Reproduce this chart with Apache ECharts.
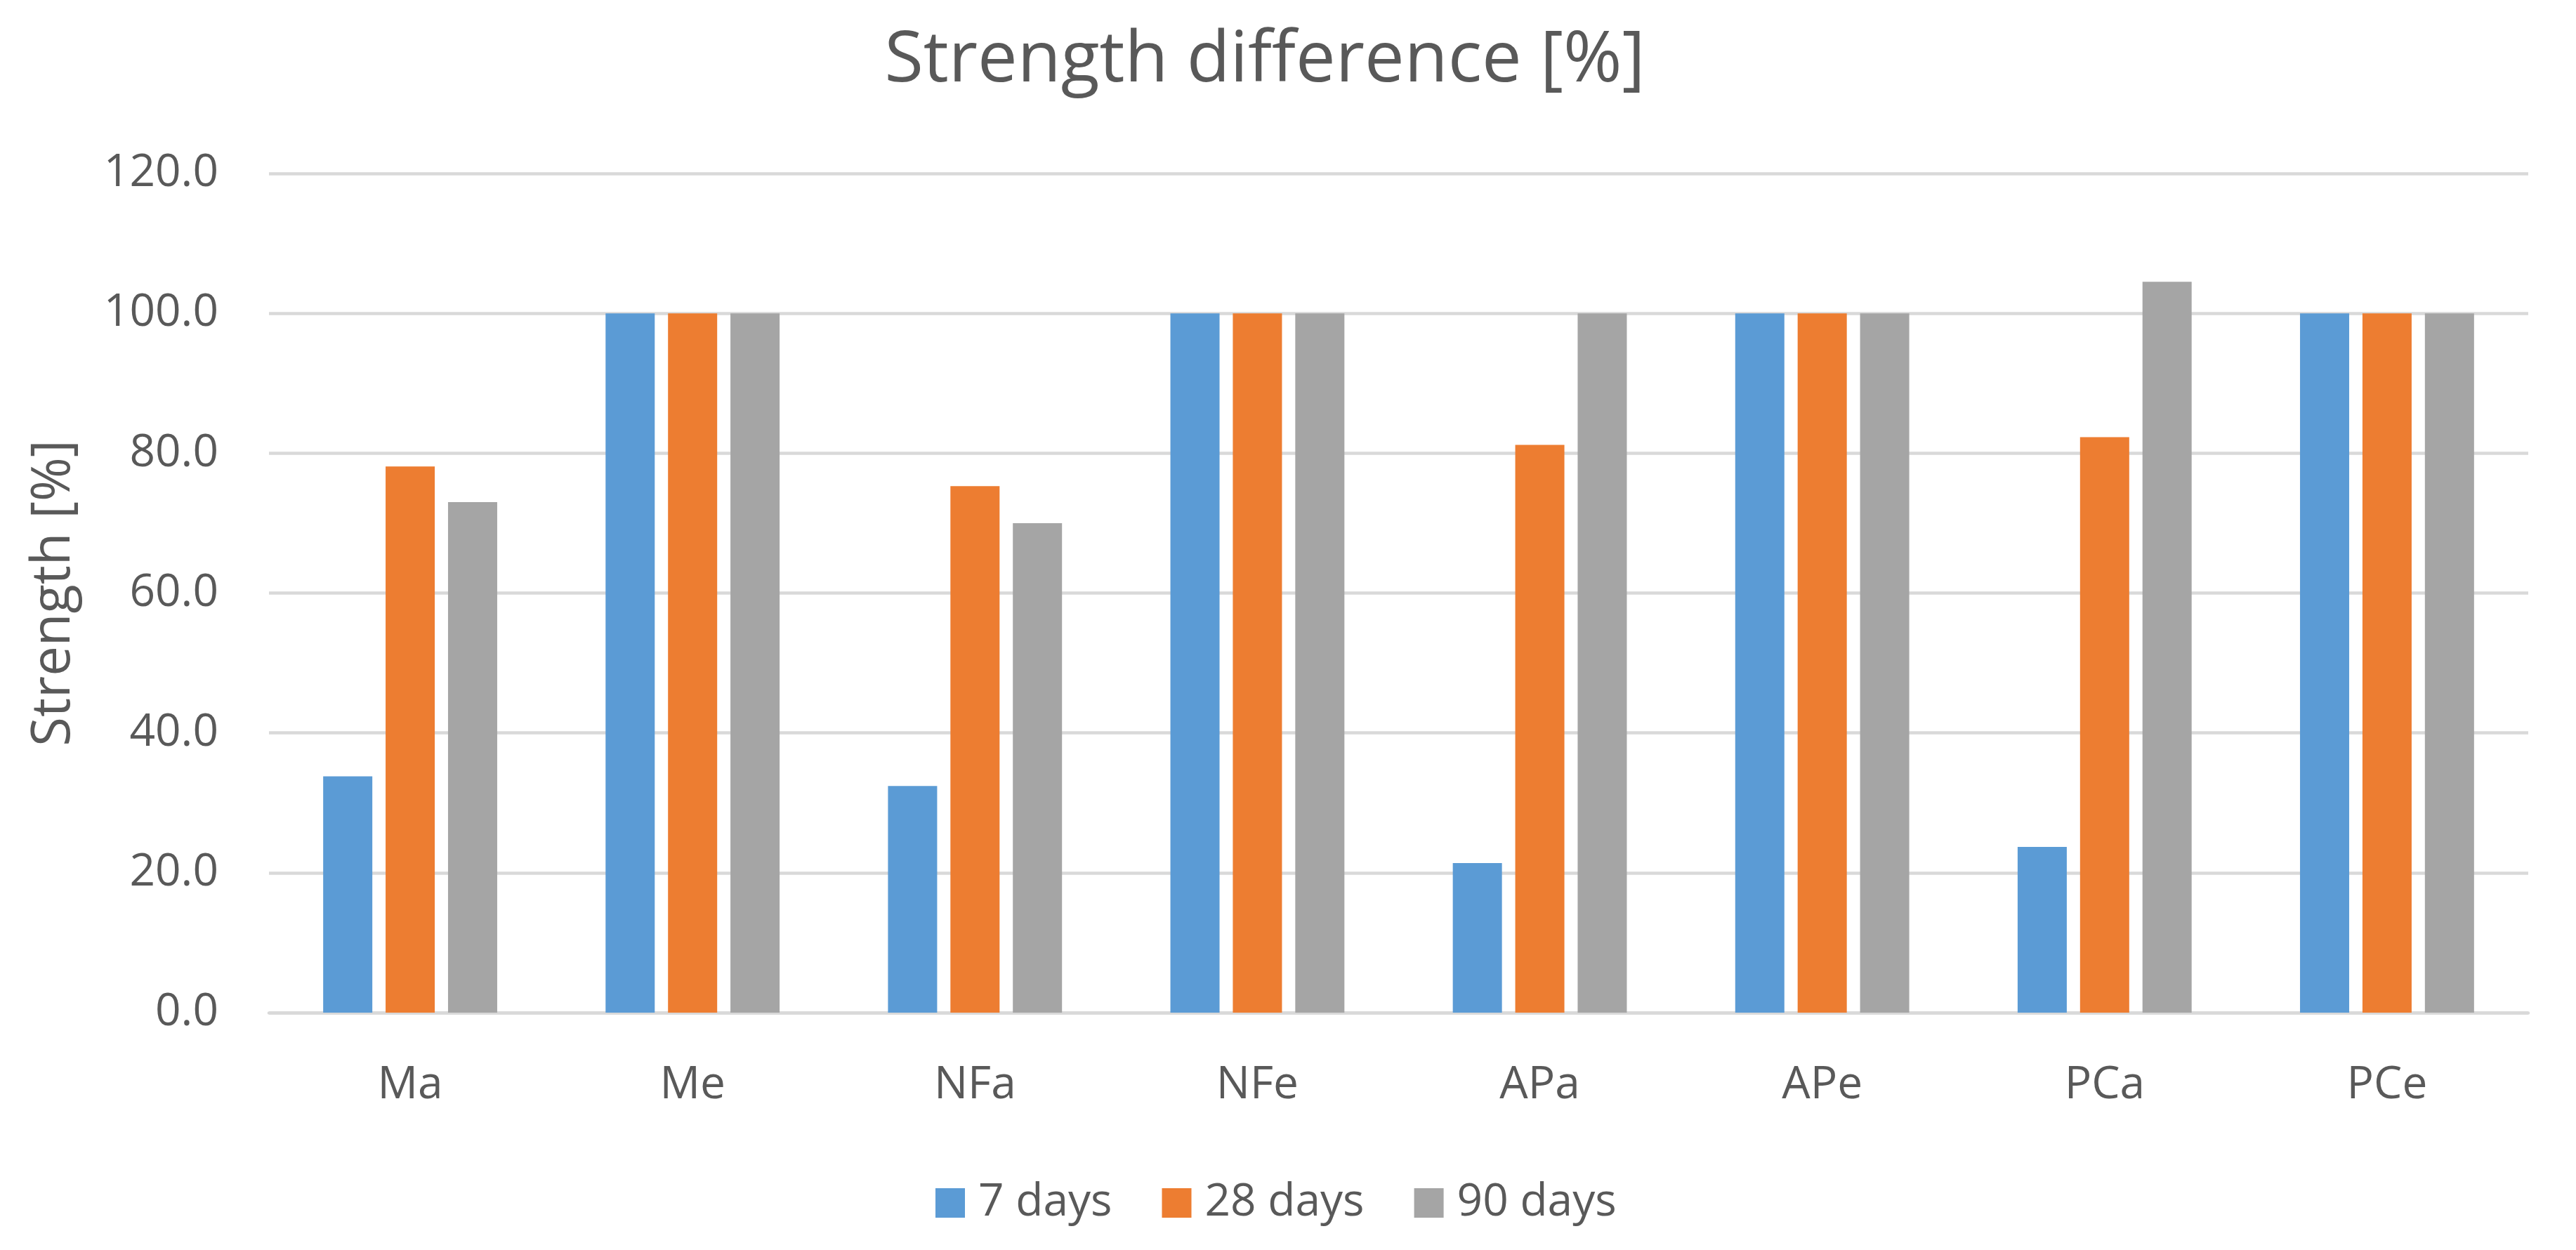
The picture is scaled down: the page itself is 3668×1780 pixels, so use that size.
<!DOCTYPE html>
<html>
<head>
<meta charset="utf-8">
<script src="https://cdn.jsdelivr.net/npm/echarts@6/dist/echarts.min.js"></script>
<style>html,body{margin:0;padding:0;background:#fff}#c{width:3668px;height:1780px}</style>
</head>
<body>
<div id="c"></div>
<script>
const categories = ['Ma', 'Me', 'NFa', 'NFe', 'APa', 'APe', 'PCa', 'PCe'];
const days7 = [33.8, 100, 32.4, 100, 21.4, 100, 23.7, 100];
const days28 = [78.1, 100, 75.3, 100, 81.2, 100, 82.3, 100];
const days90 = [73.0, 100, 70.0, 100, 100, 100, 104.5, 100];
const seriesNames = ['7 days', '28 days', '90 days'];
const yTicks = [0, 20, 40, 60, 80, 100, 120];

const FONT = 'Open Sans';
const TXT = '#595959';
const chart = echarts.init(document.getElementById('c'));
const mk = (name, data, color) => ({
  name, type: 'bar', data, barWidth: 70, barGap: '27%',
  itemStyle: { color }
});
chart.setOption({
  animation: false,
  backgroundColor: '#fff',
  title: {
    text: 'Strength difference [%]',
    left: 1796, top: 32, textAlign: 'center',
    textStyle: { fontFamily: FONT, fontSize: 101, fontWeight: 'normal', color: TXT }
  },
  legend: {
    bottom: 30, left: 1327,
    itemWidth: 42, itemHeight: 42, itemGap: 71,
    icon: 'rect',
    textStyle: { fontFamily: FONT, fontSize: 64, color: TXT, padding: [0, 0, 0, 14] },
    data: seriesNames
  },
  grid: { left: 383, right: 68, top: 247, bottom: 338 },
  xAxis: {
    type: 'category', data: categories,
    axisLine: { lineStyle: { color: '#D9D9D9', width: 4.5 } },
    axisTick: { show: false },
    axisLabel: { fontFamily: FONT, fontSize: 64, color: TXT, margin: 72 }
  },
  yAxis: {
    type: 'value', min: yTicks[0], max: yTicks[yTicks.length - 1], interval: 20,
    name: 'Strength [%]', nameLocation: 'middle', nameGap: 268,
    nameTextStyle: { fontFamily: FONT, fontSize: 76, color: TXT },
    axisLine: { show: false }, axisTick: { show: false },
    axisLabel: { fontFamily: FONT, fontSize: 64, color: TXT, margin: 72, formatter: v => v.toFixed(1) },
    splitLine: { lineStyle: { color: '#D9D9D9', width: 4.5 } }
  },
  series: [
    mk(seriesNames[0], days7, '#5B9BD5'),
    mk(seriesNames[1], days28, '#ED7D31'),
    mk(seriesNames[2], days90, '#A5A5A5')
  ]
});
</script>
</body>
</html>
